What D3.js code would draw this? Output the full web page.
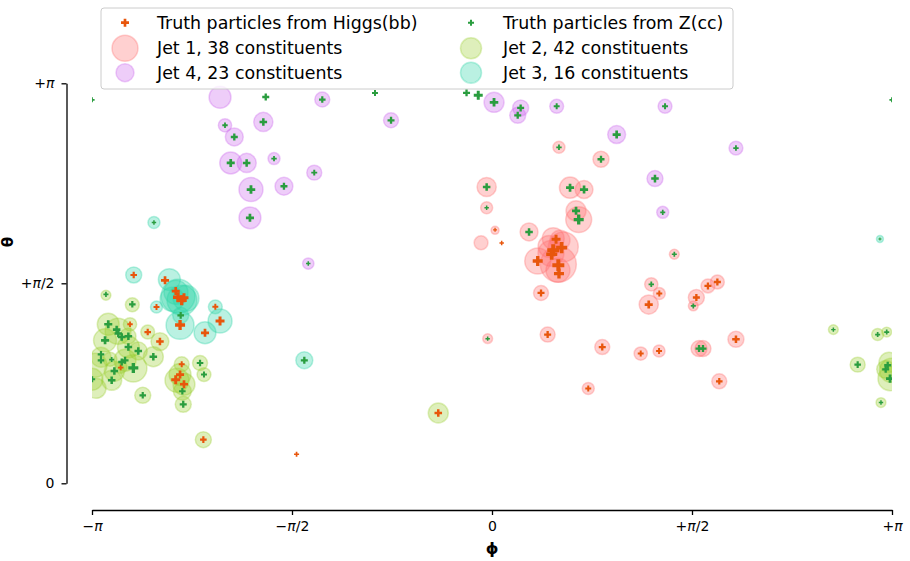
<!DOCTYPE html>
<html>
<head>
<meta charset="utf-8">
<script src="https://cdn.jsdelivr.net/npm/d3@7"></script>
<style>
  body { margin: 0; background: #fff; }
  svg { font-family: "DejaVu Sans", sans-serif; }
</style>
</head>
<body>
<svg id="chart" width="910" height="561"></svg>
<script>
const PI = Math.PI;

// Axis ticks (radians) and their labels
const xTicks = [-PI, -PI / 2, 0, PI / 2, PI];
const xTickLabels = ["−π", "−π/2", "0", "+π/2", "+π"];
const yTicks = [0, PI / 2, PI];
const yTickLabels = ["0", "+π/2", "+π"];

// Jet constituents: [phi, theta, energy]
const jet1 = [
  [-0.042, 2.327, 23], [-0.042, 2.164, 9], [0.024, 1.987, 4], [-0.086, 1.889, 12],
  [0.291, 1.974, 20], [0.613, 2.322, 28], [0.723, 2.307, 20], [0.660, 2.140, 25],
  [0.681, 2.071, 42], [0.526, 2.639, 9], [0.856, 2.545, 16], [0.481, 1.922, 30],
  [0.560, 1.856, 56], [0.359, 1.746, 42], [0.521, 1.720, 81], [0.518, 1.673, 36],
  [0.463, 1.806, 42], [0.534, 1.909, 25], [0.385, 1.495, 14], [0.437, 1.168, 14],
  [-0.034, 1.136, 6], [0.866, 1.070, 14], [0.756, 0.744, 9], [1.168, 1.019, 11],
  [1.312, 1.039, 9], [1.626, 1.058, 16], [1.657, 1.058, 16], [1.785, 0.801, 14],
  [1.916, 1.131, 16], [1.231, 1.404, 23], [1.251, 1.563, 11], [1.314, 1.490, 9],
  [1.432, 1.799, 6], [1.605, 1.459, 16], [1.581, 1.393, 6], [1.696, 1.550, 12],
  [1.770, 1.581, 12], [0.448, 1.861, 30]
];
const jet2 = [
  [-3.032, 1.477, 6], [-2.825, 1.402, 12], [-3.014, 1.249, 30], [-2.843, 1.249, 11],
  [-2.937, 1.194, 42], [-2.704, 1.188, 12], [-2.608, 1.113, 20], [-3.039, 1.123, 33],
  [-2.856, 1.070, 30], [-2.778, 1.039, 20], [-2.660, 0.994, 25], [-3.071, 0.990, 25],
  [-2.882, 0.966, 30], [-2.817, 0.903, 46], [-2.966, 0.880, 25], [-2.987, 0.809, 25],
  [-3.142, 0.817, 30], [-2.437, 0.935, 14], [-2.450, 0.854, 30], [-2.474, 0.809, 36],
  [-2.419, 0.778, 30], [-2.432, 0.723, 20], [-2.425, 0.620, 16], [-2.293, 0.945, 14],
  [-2.262, 0.854, 12], [-2.743, 0.691, 16], [-2.267, 0.343, 16], [-0.422, 0.552, 25],
  [-3.118, 0.927, 36], [-3.110, 0.746, 25], [2.681, 1.207, 6], [2.872, 0.932, 14],
  [3.029, 1.168, 9], [3.100, 1.188, 6], [3.092, 0.895, 20], [3.118, 0.950, 25],
  [3.126, 0.822, 36], [3.055, 0.634, 6], [3.138, 0.887, 36], [-2.914, 0.911, 9],
  [-2.859, 1.155, 16], [-3.000, 0.974, 12]
];
const jet3 = [
  [-2.655, 2.048, 9], [-2.814, 1.636, 16], [-2.534, 1.600, 30], [-2.466, 1.469, 72],
  [-2.435, 1.437, 56], [-2.482, 1.500, 36], [-2.635, 1.385, 9], [-2.173, 1.386, 12],
  [-2.445, 1.319, 16], [-2.450, 1.241, 49], [-2.136, 1.274, 36], [-2.254, 1.182, 30],
  [-1.474, 0.966, 18], [3.047, 1.919, 3], [-2.403, 1.453, 42], [-2.513, 1.445, 36]
];
const jet4 = [
  [-2.136, 3.032, 30], [-2.097, 2.812, 11], [-2.024, 2.720, 20], [-1.796, 2.838, 23],
  [-2.052, 2.516, 30], [-1.927, 2.516, 23], [-1.712, 2.550, 9], [-1.893, 2.307, 36],
  [-1.634, 2.333, 20], [-1.396, 2.440, 14], [-1.901, 2.085, 30], [-1.443, 1.726, 8],
  [-1.333, 3.014, 14], [-0.793, 2.851, 14], [0.016, 2.992, 25], [0.225, 2.948, 16],
  [0.202, 2.890, 16], [0.508, 2.961, 12], [0.979, 2.739, 20], [1.359, 2.961, 12],
  [1.280, 2.393, 16], [1.341, 2.128, 9], [1.916, 2.633, 12]
];

// Truth particles: [phi, theta, energy]
const higgsParticles = [
  [0.024, 1.991, 8], [0.076, 1.887, 10], [0.503, 1.916, 41], [0.547, 1.851, 62],
  [0.481, 1.830, 73], [0.469, 1.799, 62], [0.359, 1.746, 51], [0.521, 1.712, 73],
  [0.526, 1.647, 51], [0.385, 1.495, 25], [0.437, 1.168, 25], [0.866, 1.070, 25],
  [0.756, 0.744, 18], [1.168, 1.019, 18], [1.312, 1.039, 18], [1.785, 0.801, 22],
  [1.916, 1.131, 29], [1.231, 1.404, 33], [1.314, 1.490, 18], [1.605, 1.459, 25],
  [1.696, 1.550, 25], [1.770, 1.581, 25], [-2.568, 1.594, 33], [-2.814, 1.636, 22],
  [-2.484, 1.510, 33], [-2.466, 1.461, 51], [-2.437, 1.437, 51], [-2.419, 1.458, 41],
  [-2.635, 1.385, 18], [-2.173, 1.386, 18], [-2.450, 1.243, 51], [-2.136, 1.274, 41],
  [-2.254, 1.182, 33], [-2.843, 1.249, 15], [-2.704, 1.188, 22], [-2.608, 1.113, 29],
  [-2.916, 0.909, 15], [-2.437, 0.935, 18], [-2.450, 0.854, 33], [-2.484, 0.814, 41],
  [-2.419, 0.778, 33], [-2.267, 0.343, 22], [-0.422, 0.552, 29], [-1.535, 0.228, 13]
];
const zParticles = [
  [-3.141, 3.012, 13], [3.141, 3.012, 13], [-1.777, 3.034, 25], [-0.919, 3.065, 18],
  [-0.200, 3.067, 25], [-0.108, 3.047, 41], [0.016, 2.992, 37], [0.225, 2.948, 25],
  [0.202, 2.890, 25], [0.508, 2.961, 18], [-1.333, 3.014, 22], [-0.793, 2.851, 25],
  [-2.097, 2.812, 15], [-2.024, 2.720, 25], [-1.796, 2.838, 29], [-2.052, 2.516, 33],
  [-1.927, 2.516, 29], [-1.712, 2.550, 15], [-1.893, 2.307, 37], [-1.634, 2.333, 25],
  [-1.396, 2.440, 18], [-1.901, 2.085, 33], [-1.443, 1.726, 10], [-2.655, 2.048, 10],
  [-0.042, 2.327, 29], [-0.042, 2.164, 10], [0.291, 1.974, 29], [0.613, 2.322, 33],
  [0.723, 2.307, 33], [0.660, 2.140, 33], [0.681, 2.071, 51], [0.526, 2.639, 15],
  [0.856, 2.545, 25], [0.979, 2.739, 33], [1.359, 2.961, 18], [1.280, 2.393, 29],
  [1.341, 2.128, 13], [1.916, 2.633, 15], [1.432, 1.799, 13], [1.251, 1.563, 15],
  [1.581, 1.393, 13], [1.626, 1.058, 25], [1.657, 1.058, 25], [-0.034, 1.136, 10],
  [3.047, 1.919, 5], [-2.445, 1.319, 22], [-1.474, 0.966, 25], [2.681, 1.207, 10],
  [2.872, 0.932, 22], [3.029, 1.168, 13], [3.100, 1.188, 13], [3.092, 0.895, 25],
  [3.108, 0.927, 25], [3.126, 0.822, 33], [3.055, 0.634, 10], [-3.032, 1.484, 13],
  [-2.825, 1.406, 22], [-3.014, 1.249, 33], [-2.948, 1.207, 29], [-2.935, 1.176, 29],
  [-2.908, 1.149, 29], [-2.856, 1.155, 29], [-3.039, 1.123, 33], [-2.856, 1.070, 29],
  [-2.778, 1.039, 29], [-2.660, 0.994, 29], [-3.071, 1.013, 22], [-3.071, 0.966, 22],
  [-2.987, 0.972, 13], [-2.882, 0.966, 25], [-2.908, 0.953, 25], [-2.817, 0.906, 51],
  [-2.966, 0.882, 29], [-2.987, 0.809, 29], [-3.140, 0.817, 18], [-2.432, 0.723, 22],
  [-2.425, 0.620, 25], [-2.293, 0.945, 22], [-2.262, 0.854, 18], [-2.743, 0.691, 22]
];

// ---- styling ----
const HIGGS_COLOR = "#e8560c";
const Z_COLOR = "#2a9d3f";
const jets = [
  { name: "Jet 1", data: jet1, color: "#ff6f6f" },
  { name: "Jet 2", data: jet2, color: "#9acd32" },
  { name: "Jet 3", data: jet3, color: "#2dd4a8" },
  { name: "Jet 4", data: jet4, color: "#cc66ee" }
];
const JET_ALPHA = 0.33;

const svg = d3.select("#chart");
const x = d3.scaleLinear().domain([-PI, PI]).range([92, 892]);
const y = d3.scaleLinear().domain([0, PI]).range([483.3, 83.3]);
const rScale = d3.scaleSqrt().domain([0, 100]).range([0, 20]);   // constituent circle radius
const wScale = d3.scaleSqrt().domain([0, 100]).range([0, 14]);   // particle cross width
const crossPath = w => d3.symbol().type(d3.symbolCross).size(5 * (w / 3) * (w / 3))();

svg.append("defs").append("clipPath").attr("id", "plotClip")
  .append("rect").attr("x", 92).attr("y", 0).attr("width", 800).attr("height", 509);

const plot = svg.append("g").attr("clip-path", "url(#plotClip)");

// jet constituent circles
jets.forEach(j => {
  plot.append("g").selectAll("circle").data(j.data).join("circle")
    .attr("cx", d => x(d[0]))
    .attr("cy", d => y(d[1]))
    .attr("r", d => rScale(d[2]))
    .attr("fill", j.color).attr("fill-opacity", JET_ALPHA)
    .attr("stroke", j.color).attr("stroke-opacity", JET_ALPHA)
    .attr("stroke-width", 1.5);
});

// truth particles as filled crosses
[[higgsParticles, HIGGS_COLOR], [zParticles, Z_COLOR]].forEach(([data, color]) => {
  plot.append("g").selectAll("path").data(data).join("path")
    .attr("transform", d => `translate(${x(d[0])},${y(d[1])})`)
    .attr("d", d => crossPath(wScale(d[2])))
    .attr("fill", color);
});

// text with italic pi
function piLabel(sel, str) {
  sel.text(null);
  str.split(/(π)/).filter(s => s.length).forEach(part => {
    const t = sel.append("tspan").text(part);
    if (part === "π") t.attr("font-style", "italic");
  });
}

// x axis
const xAxis = svg.append("g").attr("transform", "translate(0,510)")
  .call(d3.axisBottom(x).tickValues(xTicks).tickSize(5).tickSizeOuter(0).tickPadding(6));
xAxis.selectAll(".tick text").each(function (d, i) { piLabel(d3.select(this), xTickLabels[i]); });

// y axis
const yAxis = svg.append("g").attr("transform", "translate(66.5,0)")
  .call(d3.axisLeft(y).tickValues(yTicks).tickSize(5).tickSizeOuter(0).tickPadding(7));
yAxis.selectAll(".tick text").each(function (d, i) { piLabel(d3.select(this), yTickLabels[i]); });

[xAxis, yAxis].forEach(g => {
  g.attr("font-family", "DejaVu Sans, sans-serif").attr("font-size", 14);
  g.selectAll("path, line").attr("stroke", "#000").attr("stroke-width", 1.3);
  g.selectAll("text").attr("fill", "#000");
});

// axis titles
svg.append("text").attr("x", 492).attr("y", 554)
  .attr("text-anchor", "middle").attr("font-size", 16).attr("font-weight", "bold")
  .text("ϕ");
svg.append("text").attr("transform", "translate(13,242) rotate(-90)")
  .attr("text-anchor", "middle").attr("font-size", 15).attr("font-weight", "bold")
  .text("θ");

// legend
const legend = svg.append("g");
legend.append("rect")
  .attr("x", 101).attr("y", 8).attr("width", 632).attr("height", 81).attr("rx", 3)
  .attr("fill", "#fff").attr("fill-opacity", 0.8)
  .attr("stroke", "#cccccc").attr("stroke-width", 1);

const legendItems = [
  { label: "Truth particles from Higgs(bb)", kind: "cross", color: HIGGS_COLOR, w: 8, col: 0, row: 0 },
  { label: "Truth particles from Z(cc)", kind: "cross", color: Z_COLOR, w: 6, col: 1, row: 0 },
  { label: `Jet 1, ${jet1.length} constituents`, kind: "circle", color: jets[0].color, r: 13, col: 0, row: 1 },
  { label: `Jet 2, ${jet2.length} constituents`, kind: "circle", color: jets[1].color, r: 10.5, col: 1, row: 1 },
  { label: `Jet 4, ${jet4.length} constituents`, kind: "circle", color: jets[3].color, r: 9, col: 0, row: 2 },
  { label: `Jet 3, ${jet3.length} constituents`, kind: "circle", color: jets[2].color, r: 10.5, col: 1, row: 2 }
];
const colMarkerX = [125, 471];
const colTextX = [157, 503];
const rowY = [22.7, 48.3, 72.7];

legendItems.forEach(it => {
  const cx = colMarkerX[it.col], cy = rowY[it.row];
  if (it.kind === "cross") {
    legend.append("path").attr("transform", `translate(${cx},${cy})`)
      .attr("d", crossPath(it.w)).attr("fill", it.color);
  } else {
    legend.append("circle").attr("cx", cx).attr("cy", cy).attr("r", it.r)
      .attr("fill", it.color).attr("fill-opacity", JET_ALPHA)
      .attr("stroke", it.color).attr("stroke-opacity", JET_ALPHA).attr("stroke-width", 1.5);
  }
  legend.append("text").attr("x", colTextX[it.col]).attr("y", cy)
    .attr("dominant-baseline", "central").attr("font-size", 17.4).attr("fill", "#000")
    .text(it.label);
});
</script>
</body>
</html>
